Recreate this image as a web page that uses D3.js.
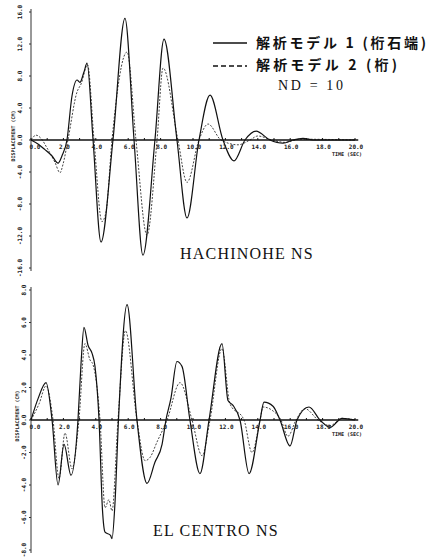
<!DOCTYPE html>
<html>
  <head>
    <meta charset="utf-8">
    <script src="https://d3js.org/d3.v7.min.js"></script>
    <style>
      body { margin: 0; background: #fff; }
      .tick-lab { font-family: "DejaVu Sans Mono", monospace; font-size: 6px; font-weight: bold; fill: #222; }
      .title { font-family: "Liberation Serif", serif; font-size: 16px; fill: #111; }
      .legend { font-family: "Noto Sans CJK JP", sans-serif; font-size: 14px; font-weight: bold; fill: #111; }
    </style>
  </head>
  <body>
    <script>
      // time (sec) and displacement (cm)
      var hachiSolidT = [0, 0.43, 0.86, 1.30, 1.67, 1.91, 2.22, 2.53, 2.84, 3.02, 3.27, 3.46, 3.83, 4.32, 5.06, 5.80, 6.36, 6.91, 7.65, 8.21, 9.01, 9.63, 10.37, 11.05, 11.85, 12.53, 13.21, 13.89, 14.75, 15.56, 16.17, 16.79, 17.41, 20]
      var hachiSolidV = [0, -0.5, -1.2, -2.0, -2.9, -2.0, 0, 5.5, 7.5, 7.2, 8.5, 9.6, 0, -12.75, 0, 15.2, 0, -14.4, 0, 12.6, 0, -9.75, 0, 5.6, 0, -2.6, 0, 1.1, 0, -0.4, 0, 0.2, 0, 0]
      var hachiDashT = [0, 0.31, 0.62, 0.99, 1.48, 1.79, 1.98, 2.28, 2.84, 3.09, 3.49, 3.89, 4.38, 4.63, 5.0, 5.93, 6.48, 7.16, 7.78, 8.15, 9.07, 9.63, 10.37, 10.93, 11.73, 12.78, 13.52, 14.0, 14.88, 15.68, 16.6, 20]
      var hachiDashV = [0, 0.6, 0.2, -1.0, -2.8, -4.1, -3.0, 0, 6.0, 7.0, 9.4, 0, -10.2, -9.0, 0, 11.0, 0, -11.9, 0, 9.0, 0, -5.3, 0, 2.0, 0, -0.6, 0, 0.5, 0, -0.3, 0.1, 0]

      var elcSolidT = [0, 0.43, 0.93, 1.30, 1.67, 2.04, 2.47, 2.90, 3.09, 3.27, 3.52, 3.77, 3.95, 4.20, 4.41, 4.57, 4.91, 5.0, 5.19, 5.40, 5.93, 6.54, 7.16, 7.65, 8.09, 8.33, 8.64, 9.01, 9.32, 9.81, 10.43, 10.99, 11.79, 12.16, 12.47, 12.90, 13.46, 14.14, 14.38, 14.94, 15.37, 15.99, 16.42, 17.16, 17.84, 18.46, 19.2, 20]
      var elcSolidV = [0, 1.3, 2.3, 0, -4.0, -1.5, -3.4, 0, 3.5, 5.7, 4.6, 4.1, 3.3, 0, -5.5, -6.9, -7.1, -7.3, -5.0, 0, 7.1, 0, -3.9, -2.6, -1.5, 0, 1.35, 3.6, 3.3, 0, -3.3, 0, 4.7, 1.2, 0.9, 0, -3.3, 0, 1.1, 0.85, 0, -1.6, 0, 0.8, 0, -0.45, 0.1, 0]
      var elcDashT = [0, 0.5, 0.93, 1.36, 1.73, 2.1, 2.53, 2.96, 3.33, 3.64, 3.83, 4.26, 4.57, 4.81, 5.0, 5.37, 5.83, 6.54, 7.04, 7.35, 7.78, 8.4, 9.2, 9.94, 10.56, 11.05, 11.79, 12.28, 13.15, 13.64, 14.14, 14.32, 14.88, 15.43, 15.86, 16.36, 16.91, 17.72, 18.46, 19.2, 20]
      var elcDashV = [0, 1.0, 2.1, 0, -3.6, -0.8, -3.0, 0, 4.7, 3.7, 3.4, 0, -5.4, -4.9, -5.6, 0, 5.5, 0, -2.5, -2.3, -1.35, 0, 2.3, 0, -2.2, 0, 4.4, 1.0, 0, -2.0, 0, 0.8, 0.6, 0, -1.0, 0, 0.7, 0, -0.35, 0.1, 0]

      var timeTicks = [0, 2, 4, 6, 8, 10, 12, 14, 16, 18, 20]
      var hachiYTicks = [-16, -12, -8, -4, 0, 4, 8, 12, 16]
      var elcYTicks = [-8, -6, -4, -2, 0, 2, 4, 6, 8]

      var legendLabels = ['解析モデル 1 (桁石端)', '解析モデル 2 (桁)']
      var ndLabel = 'ND = 10'

      var width = 438, height = 557

      var svg = d3.select('body').append('svg')
        .attr('width', width)
        .attr('height', height)

      var x = d3.scaleLinear().domain([0, 20]).range([31, 355])
      var yTop = d3.scaleLinear().domain([-16, 16]).range([268, 12])
      var yBot = d3.scaleLinear().domain([-8, 8]).range([550, 290])

      function zip(t, v) {
        return t.map(function(d, i) { return [d, v[i]] })
      }

      var drawPanel = function(y, solid, dashed, yTicks, labX, name, nameX, nameY) {
        var g = svg.append('g')

        // y axis
        g.append('line')
          .attr('x1', x(0)).attr('x2', x(0))
          .attr('y1', y(yTicks[0]) + 3).attr('y2', y(yTicks[yTicks.length - 1]) - 3)
          .attr('stroke', '#333').attr('stroke-width', 1)
        g.selectAll('.ytk').data(yTicks).enter().append('line')
          .attr('x1', x(0) - 2).attr('x2', x(0))
          .attr('y1', function(d) { return y(d) }).attr('y2', function(d) { return y(d) })
          .attr('stroke', '#333')
        g.selectAll('.ylab').data(yTicks).enter().append('text')
          .attr('class', 'tick-lab')
          .attr('text-anchor', 'middle')
          .attr('transform', function(d) { return 'translate(' + labX + ',' + y(d) + ') rotate(-90)' })
          .text(function(d) { return d.toFixed(1) })
        g.append('text')
          .attr('class', 'tick-lab')
          .style('font-size', '5px')
          .attr('text-anchor', 'middle')
          .attr('transform', 'translate(' + (labX - 7) + ',' + (y(0) - 4) + ') rotate(-90)')
          .text('DISPLACEMENT (CM)')

        // curves
        var line = d3.line()
          .x(function(d) { return x(d[0]) })
          .y(function(d) { return y(d[1]) })
          .curve(d3.curveMonotoneX)

        g.append('path')
          .attr('d', line(dashed))
          .attr('fill', 'none')
          .attr('stroke', '#444')
          .attr('stroke-width', 1)
          .attr('stroke-dasharray', '2,1.5')
        g.append('path')
          .attr('d', line(solid))
          .attr('fill', 'none')
          .attr('stroke', '#111')
          .attr('stroke-width', 1.2)

        // time axis along zero
        g.append('line')
          .attr('x1', x(0)).attr('x2', x(20.2))
          .attr('y1', y(0)).attr('y2', y(0))
          .attr('stroke', '#111').attr('stroke-width', 1.5)
        g.selectAll('.xtk').data(d3.range(0, 21, 1)).enter().append('line')
          .attr('x1', function(d) { return x(d) }).attr('x2', function(d) { return x(d) })
          .attr('y1', y(0)).attr('y2', y(0) - 2)
          .attr('stroke', '#111')
        g.selectAll('.xlab').data(timeTicks).enter().append('text')
          .attr('class', 'tick-lab')
          .attr('text-anchor', 'middle')
          .attr('x', function(d) { return x(d) + (d == 0 ? 4 : 1) })
          .attr('y', y(0) + 9)
          .text(function(d) { return d.toFixed(1) })
        g.append('text')
          .attr('class', 'tick-lab')
          .style('font-size', '5px')
          .attr('text-anchor', 'end')
          .attr('x', x(20) + 7)
          .attr('y', y(0) + 16)
          .text('TIME (SEC)')

        g.append('text')
          .attr('class', 'title')
          .attr('x', nameX)
          .attr('y', nameY)
          .style('letter-spacing', '1.2px')
          .text(name)
      }

      drawPanel(yTop, zip(hachiSolidT, hachiSolidV), zip(hachiDashT, hachiDashV), hachiYTicks, 22, 'HACHINOHE NS', 180, 259)
      drawPanel(yBot, zip(elcSolidT, elcSolidV), zip(elcDashT, elcDashV), elcYTicks, 26, 'EL CENTRO NS', 153, 536)

      // legend
      var legendWidths = [170, 141]
      var leg = svg.append('g')
      leg.selectAll('line').data(legendLabels).enter().append('line')
        .attr('x1', 213).attr('x2', 247)
        .attr('y1', function(d, i) { return 43 + i * 23 })
        .attr('y2', function(d, i) { return 43 + i * 23 })
        .attr('stroke', '#111')
        .attr('stroke-width', 1.5)
        .attr('stroke-dasharray', function(d, i) { return i == 0 ? null : '5,3' })
      leg.selectAll('text').data(legendLabels).enter().append('text')
        .attr('class', 'legend')
        .attr('x', 256)
        .attr('y', function(d, i) { return 48 + i * 22 })
        .attr('textLength', function(d, i) { return legendWidths[i] })
        .attr('lengthAdjust', 'spacing')
        .text(function(d) { return d })
      svg.append('text')
        .attr('class', 'title')
        .style('font-size', '14px')
        .attr('x', 278)
        .attr('y', 90)
        .attr('textLength', 65)
        .attr('lengthAdjust', 'spacing')
        .text(ndLabel)
    </script>
  </body>
</html>
